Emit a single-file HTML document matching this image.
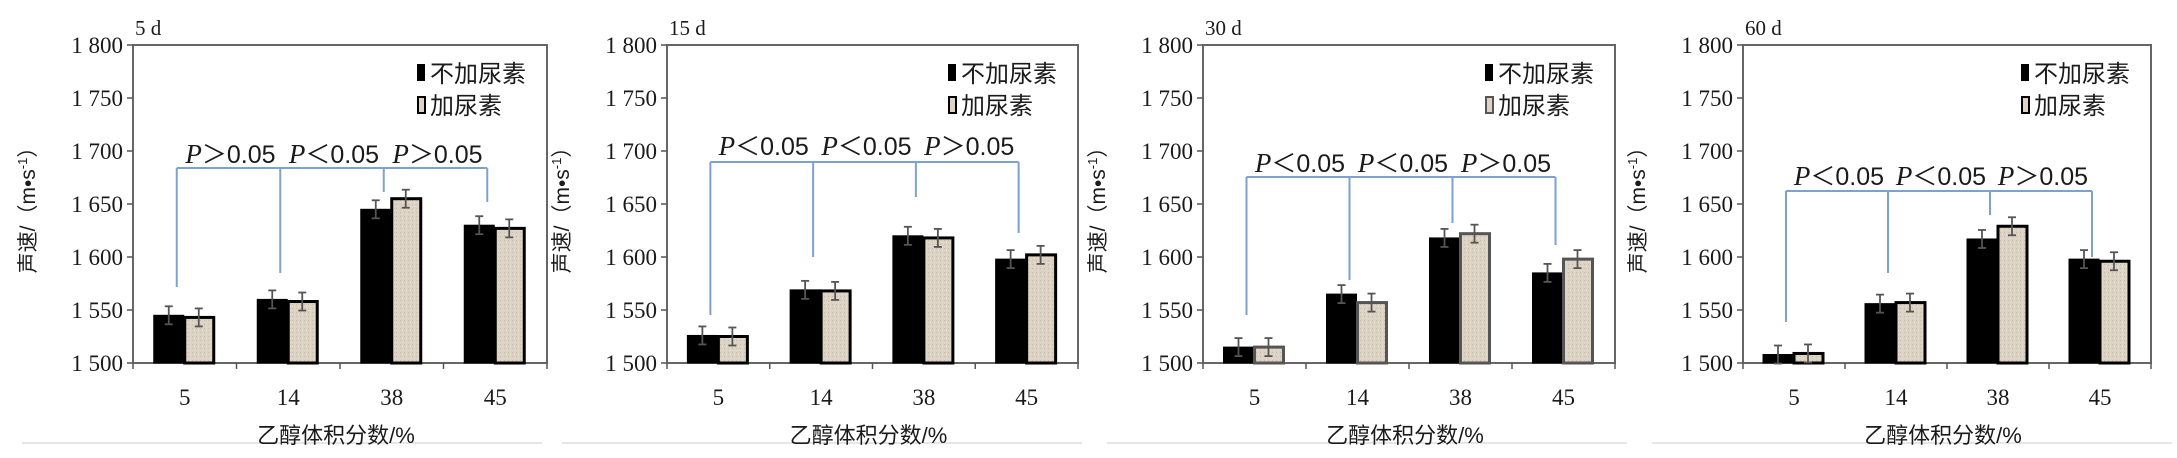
<!DOCTYPE html>
<html><head><meta charset="utf-8">
<style>
html,body{margin:0;padding:0;background:#fff;}
svg{display:block;}
text{font-family:"Liberation Serif","Noto Serif CJK SC",serif;fill:#1a1a1a;}
.cjk{font-family:"Liberation Sans","Noto Sans CJK SC",sans-serif;}
</style></head>
<body>
<svg id="s" width="2177" height="458" xmlns="http://www.w3.org/2000/svg">
<defs>
<pattern id="tex" width="4" height="4" patternUnits="userSpaceOnUse">
<rect width="4" height="4" fill="#ddd3c4"/>
<rect width="1" height="1" fill="#c9bca8"/>
<rect x="2" y="2" width="1" height="1" fill="#e8e0d4"/>
</pattern>
</defs>
</svg>
<script>
(function(){
var S=document.getElementById('s');
var NS='http://www.w3.org/2000/svg';
function el(t,a,txt,parent){var e=document.createElementNS(NS,t);for(var k in a)e.setAttribute(k,a[k]);if(txt!==undefined&&txt!==null)e.textContent=txt;(parent||S).appendChild(e);return e;}
var panels=[
 {o:0,ax:133,r:547,title:'5 d',v:[[1545,1543],[1560,1558],[1645,1655],[1630,1627]],by:168,drops:[287,273,192,202],ly:153,labs:['>','<','>'],gray:false},
 {o:540,ax:667,r:1078,title:'15 d',v:[[1526,1525],[1569,1568],[1620,1618],[1598,1602]],by:162,drops:[315,257,197,233],ly:145,labs:['<','<','>'],gray:false},
 {o:1085,ax:1203,r:1615,title:'30 d',v:[[1515,1515],[1565,1557],[1618,1622],[1585,1598]],by:177,drops:[315,280,223,245],ly:162,labs:['<','<','>'],gray:true},
 {o:1630,ax:1743,r:2151,title:'60 d',v:[[1508,1509],[1556,1557],[1617,1629],[1598,1596]],by:191,drops:[322,273,215,257],ly:175,labs:['<','<','>'],gray:false}
];
var TOP=45,BOT=363;
function Y(v){return BOT-(v-1500)/300*(BOT-TOP);}
var cats=['5','14','38','45'];
panels.forEach(function(p){
 el('line',{x1:p.o+22,y1:443,x2:p.o+542,y2:443,stroke:'#ccc','stroke-width':1});
 var W=p.r-p.ax,c=W/4;
 el('rect',{x:p.ax,y:TOP,width:W,height:BOT-TOP,fill:'none',stroke:'#666','stroke-width':2});
 for(var i=0;i<=6;i++){var v=1500+i*50,y=Y(v);
  el('line',{x1:p.ax-6,y1:y,x2:p.ax,y2:y,stroke:'#555','stroke-width':1.5});
  el('text',{x:p.ax-10,y:y+8,'font-size':23,'text-anchor':'end'},'1 '+String(v).slice(1));}
 for(var j=0;j<=4;j++){var x=p.ax+c*j;el('line',{x1:x,y1:BOT,x2:x,y2:BOT+6,stroke:'#555','stroke-width':1.5});}
 p.v.forEach(function(vv,i){
  var cx=p.ax+c*(i+0.5);
  var y0=Y(vv[0]),y1=Y(vv[1]);
  el('rect',{x:cx-31,y:y0,width:30,height:BOT-y0,fill:'#000',stroke:'#000','stroke-width':1});
  el('rect',{x:cx,y:y1,width:29,height:BOT-y1,fill:'url(#tex)',stroke:p.gray?'#555':'#000','stroke-width':3});
  [[cx-16,y0],[cx+14,y1]].forEach(function(q){var x=q[0],y=q[1];
   el('line',{x1:x,y1:y-9,x2:x,y2:y+9,stroke:'#555','stroke-width':1.8});
   el('line',{x1:x-4,y1:y-9,x2:x+4,y2:y-9,stroke:'#555','stroke-width':1.8});
   el('line',{x1:x-4,y1:y+9,x2:x+4,y2:y+9,stroke:'#555','stroke-width':1.8});
  });
  el('text',{x:cx,y:405,'font-size':23,'text-anchor':'middle'},cats[i]);
 });
 var bx=[0,1,2,3].map(function(i){return p.ax+c*(i+0.5)-8;});
 el('line',{x1:bx[0],y1:p.by,x2:bx[3],y2:p.by,stroke:'#7ea2cf','stroke-width':2});
 bx.forEach(function(x,i){el('line',{x1:x,y1:p.by,x2:x,y2:p.drops[i],stroke:'#7ea2cf','stroke-width':2});});
 for(var k=0;k<3;k++){
  var t=el('text',{x:(bx[k]+bx[k+1])/2+2,y:p.ly+10,'font-size':25,'text-anchor':'middle','class':'cjk'});
  el('tspan',{'font-style':'italic','font-family':'Liberation Serif','font-size':27},'P',t);
  el('tspan',{},(p.labs[k]=='>'?'＞':'＜')+'0.05',t);
 }
 var lx=p.r-130;
 el('rect',{x:lx,y:64,width:8,height:17,fill:'#000'});
 el('text',{x:lx+13,y:82,'font-size':24,'class':'cjk'},'不加尿素');
 el('rect',{x:lx+1,y:97,width:7,height:16,fill:'#ddd3c4',stroke:p.gray?'#555':'#000','stroke-width':2});
 el('text',{x:lx+13,y:114,'font-size':24,'class':'cjk'},'加尿素');
 el('text',{x:p.ax+2,y:35,'font-size':21},p.title);
 el('text',{x:(p.ax+p.r)/2-4,y:443,'font-size':22,'text-anchor':'middle','class':'cjk'},'乙醇体积分数/%');
 var yl=el('text',{x:0,y:0,'font-size':21,'text-anchor':'middle','class':'cjk',transform:'translate('+(p.ax-98)+',205) rotate(-90)'});
 el('tspan',{},'声速/（m•s',yl);
 el('tspan',{'font-size':13,dy:-8},'-1',yl);
 el('tspan',{dy:8},'）',yl);
});
})();
</script>
</body></html>
